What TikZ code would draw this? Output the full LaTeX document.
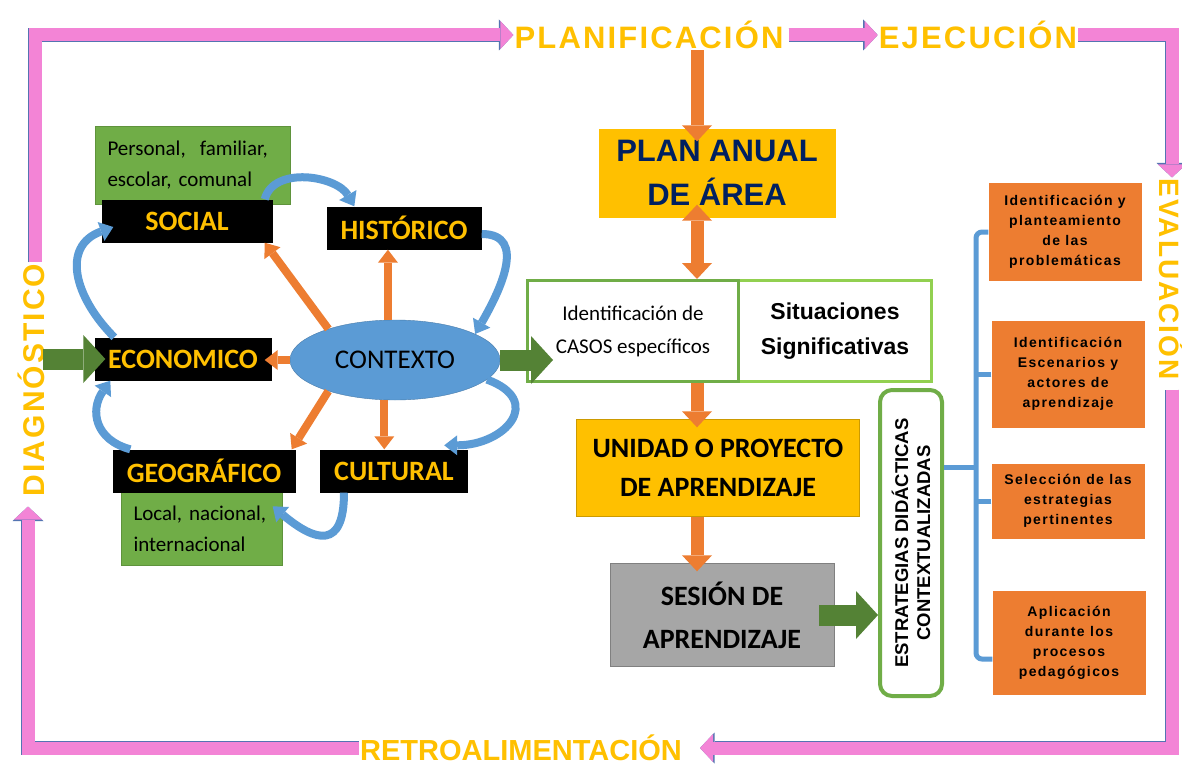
\documentclass[tikz,border=0pt]{standalone}
\usepackage{fontspec}
\setmainfont{Carlito}
\newfontfamily\arialfont{Liberation Sans}
\newfontfamily\cyclefont[LetterSpace=7]{Liberation Sans}
\newfontfamily\spacedfont[LetterSpace=10]{Liberation Sans}
\usetikzlibrary{arrows.meta,shapes.geometric}

\definecolor{pinkfill}{RGB}{243,132,214}
\definecolor{pinkedge}{RGB}{84,116,178}
\definecolor{gold}{RGB}{255,192,0}
\definecolor{navy}{RGB}{0,32,96}
\definecolor{orangeA}{RGB}{237,125,49}
\definecolor{greenbox}{RGB}{112,173,71}
\definecolor{greendark}{RGB}{84,130,53}
\definecolor{lightgreen}{RGB}{146,208,80}
\definecolor{bluefill}{RGB}{91,155,213}
\definecolor{grayfill}{RGB}{166,166,166}

\tikzset{
  cyclelabel/.style={text=gold, inner sep=1pt, font=\cyclefont\bfseries\fontsize{31}{31}\selectfont},
  cyclearrow/.style={draw=pinkfill, line width=13pt, line join=miter,
    -{Triangle[width=28pt,length=13pt,line width=0pt]},
    preaction={draw=pinkedge, line width=14.6pt, line join=miter,
      -{Triangle[width=31pt,length=14.5pt,line width=0pt]}}},
  catbox/.style={fill=black, text=gold, minimum height=43pt, inner sep=0pt,
    font=\bfseries\fontsize{28}{28}\selectfont},
  notebox/.style={fill=greenbox, draw=greenbox!85!black, align=left, inner xsep=12pt,
    inner ysep=0pt, font=\fontsize{21}{31}\selectfont},
  spoke/.style={draw=orangeA, line width=8pt, -{Triangle[width=20pt,length=13pt,line width=0pt]}},
  flowarrow/.style={draw=orangeA, line width=13pt, -{Triangle[width=30pt,length=16pt,line width=0pt]}},
  greenarrow/.style={draw=greendark, line width=21pt, -{Triangle[width=48pt,length=22pt,line width=0pt]}},
  bluearc/.style={draw=bluefill, line width=8pt, -{Triangle[width=20pt,length=13pt,line width=0pt]}},
  bracketline/.style={draw=bluefill, line width=5pt, rounded corners=6pt},
  taskbox/.style={fill=orangeA, text=black, align=center, minimum width=153pt, inner sep=0pt,
    font=\spacedfont\bfseries\fontsize{14}{20}\selectfont},
}

\begin{document}
\begin{tikzpicture}[x=1pt,y=-1pt]
\path[use as bounding box, fill=white] (0,0) rectangle (1182,765);

% Cycle labels
\node[cyclelabel] (plan) at (649,35) {PLANIFICACIÓN};
\node[cyclelabel] (ejec) at (978,35) {EJECUCIÓN};
\node[cyclelabel, rotate=-90, font=\cyclefont\bfseries\fontsize{28}{28}\selectfont] (eval) at (1172,279) {EVALUACIÓN};
\node[cyclelabel, font=\arialfont\bfseries\fontsize{29}{29}\selectfont] (retro) at (521,748) {RETROALIMENTACIÓN};
\node[cyclelabel, font=\cyclefont\bfseries\fontsize{30}{30}\selectfont, rotate=90] (diag) at (31,380) {DIAGNÓSTICO};

% Cycle arrows
\draw[cyclearrow] ([xshift=4pt]diag.east) |- (plan.west);
\draw[cyclearrow, shorten <=4pt] (plan.east) -- (ejec.west);
\draw[cyclearrow] (ejec.east) -| (eval.west);
\draw[cyclearrow, shorten <=9pt, shorten >=17pt] (eval.east) |- (retro.east);
\draw[cyclearrow, shorten >=9pt] (retro.west) -| ([xshift=-3pt]diag.west);

% Context boxes
\node[notebox, text width=171pt, minimum height=78pt] (note1) at (193,165) {Personal,\ \ familiar,\\escolar, comunal};
\node[notebox, text width=137pt, minimum height=73pt] (note2) at (202,529) {Local, nacional,\\internacional};
\node[catbox, minimum width=171pt] (social) at (187,221) {SOCIAL};
\node[catbox, minimum width=155pt] (hist) at (404,228) {HISTÓRICO};
\node[catbox, minimum width=177pt] (econ) at (183,359) {ECONOMICO};
\node[catbox, minimum width=183pt] (geo) at (204,471) {GEOGRÁFICO};
\node[catbox, minimum width=148pt] (cult) at (394,471) {CULTURAL};
\node[ellipse, fill=bluefill, draw=bluefill!80!black, minimum width=210pt, minimum height=80pt,
  inner sep=0pt, font=\fontsize{27}{27}\selectfont] (ctx) at (395,360) {CONTEXTO};

% Spokes from the context
\draw[spoke] (ctx.155) -- ([xshift=-8pt]social.south east);
\draw[spoke] (ctx.100) -- (ctx.100 |- hist.south);
\draw[spoke, shorten >=-7pt] (ctx.west) -- (ctx.west -| econ.east);
\draw[spoke] (ctx.205) -- ([xshift=-4pt]geo.north east);
\draw[spoke] (ctx.255) -- (ctx.255 |- cult.north);

% Curved links
\draw[bluearc] ([xshift=20pt]econ.north west) to[out=135,in=200,looseness=1.3] ([xshift=12pt,yshift=-6pt]social.west);
\draw[bluearc] ([xshift=18pt]geo.north west) to[out=165,in=235,looseness=1.3] ([xshift=16pt]econ.south west);
\draw[bluearc] ([xshift=-8pt]social.north east) to[out=75,in=120] ([xshift=28pt]hist.north west);
\draw[bluearc] ([yshift=-6pt]hist.east) to[out=0,in=60,looseness=1.2] (ctx.18);
\draw[bluearc] (ctx.-12) to[out=-20,in=0,looseness=2] ([xshift=-24pt,yshift=4pt]cult.north east);
\draw[bluearc] ([xshift=-50pt]cult.south) to[out=-90,in=-40,looseness=2] ([xshift=-10pt,yshift=-14pt]note2.north east);

% Main column
\node[fill=gold, minimum width=237pt, minimum height=89pt, align=center, text=navy,
  font=\arialfont\bfseries\fontsize{31}{44}\selectfont] (pana) at (717,173) {PLAN ANUAL\\DE ÁREA};
\node[draw=lightgreen, line width=3pt, minimum width=193pt, minimum height=101pt, align=center,
  font=\arialfont\bfseries\fontsize{23}{35}\selectfont] (situ) at (835,331) {Situaciones\\Significativas};
\node[draw=greenbox, line width=3pt, minimum width=211pt, minimum height=101pt, align=center,
  font=\fontsize{21}{33}\selectfont] (casos) at (633,331) {Identificación de\\CASOS específicos};
\node[fill=gold, draw=gold!80!black, minimum width=283pt, minimum height=97pt, align=center,
  font=\bfseries\fontsize{28}{39}\selectfont] (unidad) at (718,468) {UNIDAD O PROYECTO\\DE APRENDIZAJE};
\node[fill=grayfill, draw=gray, minimum width=224pt, minimum height=103pt, align=center,
  font=\bfseries\fontsize{28}{43}\selectfont] (sesion) at (722,615) {SESIÓN DE\\APRENDIZAJE};
\node[draw=greenbox, line width=4pt, fill=white, rounded corners=12pt, rotate=90, minimum width=306pt,
  minimum height=62pt, align=center, inner sep=0pt,
  font=\arialfont\bfseries\fontsize{18.5}{22}\selectfont] (estr) at (911,543) {ESTRATEGIAS DIDÁCTICAS\\CONTEXTUALIZADAS};

\coordinate (colA) at (697,0);
\draw[flowarrow, shorten >=-13pt] (plan.south -| colA) -- (pana.north -| colA);
\draw[flowarrow, {Triangle[width=30pt,length=16pt,line width=0pt]}-{Triangle[width=30pt,length=16pt,line width=0pt]},
  shorten <=-13pt] (pana.south -| colA) -- (casos.north -| colA);
\draw[flowarrow, shorten >=-8pt] (casos.south -| colA) -- (unidad.north -| colA);
\draw[flowarrow, shorten >=-8pt] (unidad.south -| colA) -- (sesion.north -| colA);

% Green arrows
\coordinate (greenin) at (43,0);
\draw[greenarrow, shorten >=-11pt] (econ.west -| greenin) -- (econ.west);
\draw[greenarrow, shorten >=-27pt] (ctx.east) -- (ctx.east -| casos.west);
\draw[greenarrow, shorten <=-15pt] (sesion.east) -- (sesion.east -| estr.north);

% Strategy steps
\node[taskbox, minimum height=98pt] (ob1) at (1065,232) {Identificación y\\planteamiento\\de las\\problemáticas};
\node[taskbox, minimum height=107pt] (ob2) at (1068,374) {Identificación\\Escenarios y\\actores de\\aprendizaje};
\node[taskbox, minimum height=75pt] (ob3) at (1068,501) {Selección de las\\estrategias\\pertinentes};
\node[taskbox, minimum height=104pt] (ob4) at (1069,643) {Aplicación\\durante los\\procesos\\pedagógicos};

\coordinate (spine) at (976,0);
\coordinate (hub) at (976,467);
\coordinate (ob4tick) at ([yshift=-16pt]ob4.west);
\draw[bracketline] (ob1.west) -- (ob1.west -| spine) -- (ob4tick -| spine) -- (ob4tick);
\draw[bracketline] (ob2.west) -- (ob2.west -| spine);
\draw[bracketline] (ob3.west) -- (ob3.west -| spine);
\draw[bracketline] (hub -| estr.south) -- (hub);

\end{tikzpicture}
\end{document}
